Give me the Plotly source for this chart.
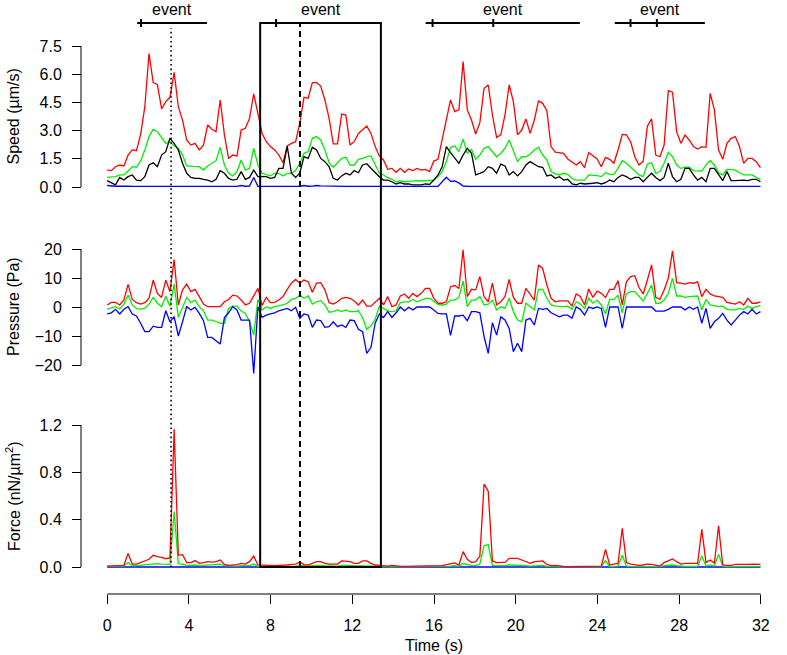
import plotly.graph_objects as go

# ---------------- data ----------------
SAMPLE_INTERVAL_S = 0.205
N_SAMPLES = 157
time_s = [round(i * SAMPLE_INTERVAL_S, 3) for i in range(N_SAMPLES)]

speed_red = [
    0.90, 0.87, 1.08, 1.17, 1.12, 1.70, 1.97, 1.93, 2.80, 4.27,
    7.10, 5.55, 5.46, 4.15, 4.54, 4.77, 6.10, 4.27, 3.56, 2.50,
    2.23, 2.32, 1.97, 2.23, 3.30, 3.07, 2.94, 4.63, 2.77, 1.52,
    1.70, 1.65, 3.03, 3.12, 3.65, 4.95, 3.92, 2.85, 2.41, 2.15,
    1.97, 1.70, 1.29, 2.18, 2.32, 2.41, 3.39, 4.77, 4.72, 5.55,
    5.55, 5.37, 4.63, 3.65, 2.29, 2.29, 3.88, 3.83, 2.23, 2.41,
    2.85, 3.07, 3.24, 2.85, 2.15, 1.65, 1.44, 0.94, 0.99, 0.78,
    0.99, 0.78, 0.96, 0.87, 0.99, 0.90, 0.94, 0.82, 1.38, 1.47,
    2.50, 3.69, 4.63, 4.01, 4.10, 6.67, 4.10, 3.56, 2.82, 3.42,
    5.25, 5.43, 3.83, 2.64, 2.77, 3.83, 5.43, 4.54, 2.77, 3.03,
    3.62, 2.85, 3.56, 4.57, 4.45, 4.06, 2.15, 1.85, 1.84, 1.79,
    1.49, 1.31, 1.17, 1.35, 1.03, 1.83, 1.67, 1.49, 1.08, 1.58,
    1.47, 1.26, 1.97, 2.80, 2.77, 2.41, 1.61, 1.17, 1.35, 3.24,
    3.62, 1.70, 1.61, 2.23, 5.12, 5.04, 2.94, 2.32, 2.77, 2.50,
    2.15, 2.02, 2.15, 2.11, 4.98, 4.10, 1.97, 1.47, 2.32, 2.59,
    2.68, 2.15, 1.26, 1.52, 1.52, 1.35, 1.03,
]
speed_green = [
    0.51, 0.53, 0.55, 0.64, 0.64, 0.85, 1.08, 1.05, 1.40, 1.97,
    2.68, 3.07, 2.94, 2.64, 2.32, 2.41, 2.18, 2.06, 1.70, 1.12,
    1.08, 1.08, 1.08, 0.90, 1.12, 1.26, 1.40, 2.11, 1.17, 0.73,
    0.59, 0.82, 1.44, 0.90, 0.99, 2.06, 1.17, 0.73, 0.64, 0.59,
    0.73, 0.73, 0.59, 0.73, 0.73, 0.87, 1.26, 1.79, 1.88, 2.59,
    2.68, 2.50, 1.97, 1.30, 1.05, 1.26, 1.52, 1.58, 1.17, 1.17,
    1.47, 1.52, 1.61, 1.65, 1.17, 0.73, 0.64, 0.50, 0.41, 0.28,
    0.32, 0.28, 0.30, 0.32, 0.34, 0.32, 0.34, 0.32, 0.37, 0.55,
    0.82, 1.35, 2.11, 2.18, 1.88, 2.55, 1.79, 2.00, 1.47, 1.70,
    2.06, 2.15, 1.88, 1.61, 1.79, 2.06, 2.50, 1.97, 1.35, 1.61,
    1.61, 1.74, 1.97, 2.11, 1.70, 1.44, 0.82, 0.70, 0.64, 0.73,
    0.67, 0.46, 0.37, 0.37, 0.37, 0.64, 0.64, 0.60, 0.55, 0.76,
    0.67, 0.69, 0.99, 1.40, 1.26, 1.05, 0.82, 0.64, 0.55, 1.22,
    1.29, 0.73, 0.82, 1.26, 1.84, 1.61, 1.17, 0.99, 1.05, 1.05,
    0.87, 0.87, 0.85, 1.17, 1.40, 1.17, 0.76, 0.64, 0.94, 0.94,
    0.90, 0.76, 0.64, 0.64, 0.64, 0.51, 0.41,
]
speed_black = [
    0.34, 0.23, 0.11, 0.51, 0.37, 0.55, 0.64, 0.37, 0.34, 0.55,
    1.17, 1.29, 1.08, 1.70, 1.88, 2.59, 2.32, 1.97, 1.26, 0.73,
    0.51, 0.46, 0.46, 0.41, 0.37, 0.28, 0.41, 0.87, 0.73, 0.46,
    0.37, 0.41, 0.82, 0.41, 0.51, 0.90, 0.55, 0.55, 0.55, 0.46,
    0.51, 0.99, 0.99, 2.18, 0.73, 0.51, 0.73, 1.61, 1.52, 2.11,
    1.97, 1.52, 1.35, 1.08, 0.46, 0.37, 0.59, 0.73, 0.64, 0.87,
    0.76, 1.17, 1.24, 1.00, 0.76, 0.55, 0.37, 0.37, 0.28, 0.16,
    0.23, 0.16, 0.16, 0.11, 0.11, 0.11, 0.16, 0.14, 0.37, 0.64,
    1.08, 2.15, 1.83, 1.52, 1.26, 1.70, 2.06, 1.79, 0.64, 0.73,
    0.82, 1.08, 0.99, 0.73, 1.22, 1.12, 0.64, 0.82, 0.59, 0.82,
    1.17, 1.35, 1.22, 1.08, 1.05, 0.59, 0.64, 0.46, 0.55, 0.37,
    0.41, 0.16, 0.11, 0.20, 0.16, 0.20, 0.20, 0.23, 0.16, 0.23,
    0.37, 0.28, 0.51, 0.64, 0.55, 0.41, 0.51, 0.51, 0.28, 0.51,
    0.73, 0.51, 0.34, 0.51, 1.26, 0.55, 0.28, 0.41, 0.99, 0.99,
    0.64, 0.37, 0.51, 0.28, 0.99, 0.99, 0.64, 0.34, 0.82, 0.34,
    0.34, 0.37, 0.37, 0.34, 0.41, 0.41, 0.28,
]
speed_blue = [
    0.08, 0.05, 0.04, 0.05, 0.03, 0.04, 0.03, 0.03, 0.04, 0.03,
    0.03, 0.03, 0.03, 0.03, 0.03, 0.03, 0.04, 0.03, 0.03, 0.03,
    0.03, 0.03, 0.03, 0.03, 0.03, 0.03, 0.03, 0.03, 0.03, 0.03,
    0.03, 0.03, 0.08, 0.04, 0.05, 0.51, 0.04, 0.03, 0.03, 0.03,
    0.03, 0.03, 0.03, 0.03, 0.03, 0.03, 0.04, 0.08, 0.04, 0.05,
    0.08, 0.06, 0.05, 0.04, 0.03, 0.03, 0.03, 0.03, 0.03, 0.03,
    0.03, 0.03, 0.03, 0.03, 0.03, 0.03, 0.03, 0.03, 0.03, 0.03,
    0.03, 0.03, 0.03, 0.03, 0.03, 0.03, 0.03, 0.03, 0.03, 0.03,
    0.28, 0.52, 0.30, 0.32, 0.22, 0.05, 0.04, 0.03, 0.03, 0.03,
    0.03, 0.03, 0.03, 0.03, 0.03, 0.03, 0.03, 0.03, 0.03, 0.03,
    0.03, 0.03, 0.03, 0.03, 0.03, 0.03, 0.03, 0.03, 0.03, 0.03,
    0.03, 0.03, 0.03, 0.03, 0.03, 0.03, 0.03, 0.03, 0.03, 0.03,
    0.03, 0.03, 0.04, 0.06, 0.04, 0.03, 0.03, 0.03, 0.03, 0.03,
    0.03, 0.03, 0.03, 0.03, 0.03, 0.03, 0.03, 0.03, 0.03, 0.03,
    0.03, 0.03, 0.03, 0.03, 0.03, 0.03, 0.03, 0.03, 0.03, 0.03,
    0.03, 0.03, 0.03, 0.03, 0.03, 0.03, 0.03,
]

pressure_red = [
    0.7, 1.6, 1.6, 0.7, 2.4, 7.8, 2.6, 1.5, 1.0, 1.5,
    3.0, 9.3, 4.7, 3.3, 9.3, 5.3, 16.4, 0.7, 5.9, 7.9,
    5.3, 6.1, 3.6, 1.0, 0.1, 0.1, 0.1, 0.1, 1.8, 2.6,
    4.1, 3.8, 2.4, 0.7, 1.3, 3.8, 6.4, 0.5, 3.3, 1.5,
    1.6, 2.4, 3.6, 6.1, 8.2, 9.5, 8.2, 9.3, 8.7, 5.1,
    8.2, 8.4, 5.9, 1.5, 1.0, 1.8, 3.0, 3.3, 3.0, 2.1,
    0.7, 2.4, 0.3, 0.3, 1.8, 3.0, 0.7, 3.6, 0.1, 0.7,
    3.8, 4.5, 3.0, 4.7, 3.6, 4.7, 6.4, 6.4, 3.0, 1.3,
    1.3, 1.8, 7.0, 7.4, 6.4, 19.7, 3.6, 6.1, 5.9, 10.5,
    3.6, 1.8, 8.2, 0.7, 1.8, 3.6, 9.5, 3.3, 1.3, 1.3,
    6.4, 4.5, 2.4, 14.5, 13.3, 7.6, 3.0, 1.8, 2.1, 2.1,
    2.1, 0.3, 4.5, 3.6, 0.7, 6.2, 3.3, 5.5, 4.7, 3.3,
    6.1, 6.1, 9.1, 0.7, 8.7, 10.5, 10.8, 6.7, 4.5, 9.3,
    14.5, 3.3, 2.6, 5.9, 9.9, 19.4, 8.4, 8.2, 7.9, 8.4,
    8.2, 8.7, 3.6, 6.1, 4.5, 3.8, 3.6, 3.3, 1.6, 1.3,
    1.0, 1.8, 0.7, 3.0, 1.3, 1.3, 1.8,
]
pressure_green = [
    -0.7, -0.2, 0.1, -0.7, 1.0, 4.1, 0.7, -0.5, -0.7, -0.5,
    1.0, 3.3, 1.3, 0.1, 3.8, 0.3, 7.9, -3.6, 0.1, 3.3,
    1.5, 2.4, 0.1, -1.3, -4.5, -4.5, -5.0, -5.6, -5.6, -0.5,
    0.3, 0.3, -1.4, -2.2, -5.0, -9.7, 2.6, -1.0, 0.1, -0.5,
    0.1, 0.3, 0.7, 1.3, 2.6, 3.0, 4.1, 3.0, 3.8, 1.0,
    1.8, 2.2, 0.7, -1.8, -1.6, -1.0, -1.6, -1.0, -1.6, -1.6,
    -1.3, -3.6, -7.7, -6.5, -4.3, 0.3, -0.5, -1.3, -1.6, -1.3,
    1.5, 1.8, 1.8, 2.6, 1.8, 2.4, 3.0, 3.0, 1.8, 0.9,
    0.7, 1.0, 2.4, 2.4, 3.3, 9.0, 0.1, 2.4, 2.4, 3.6,
    0.7, 1.0, 2.4, -1.0, 0.1, -0.5, 3.0, -1.6, -4.5, -5.1,
    1.3, 0.1, -1.0, 6.1, 6.1, 3.0, 0.7, 0.3, 0.1, 0.1,
    0.3, -0.8, 1.8, 1.0, -0.5, 3.0, 1.3, 2.4, 0.7, -2.4,
    2.6, 2.6, 4.1, -2.0, 4.7, 5.3, 5.3, 3.6, 2.1, 4.7,
    7.5, 1.3, 1.3, 2.4, 4.7, 9.9, 3.8, 3.8, 3.3, 3.6,
    3.6, 3.8, -1.0, 2.6, 0.7, 0.3, 0.1, 0.3, -0.8, -1.0,
    -1.0, -0.5, -0.8, 0.3, -0.5, 0.1, 0.5,
]
pressure_blue = [
    -2.4, -2.0, -0.8, -2.4, -0.8, 0.1, -2.4, -3.1, -5.6, -8.5,
    -8.5, -6.6, -7.0, -7.0, -1.3, -5.1, -3.3, -10.0, -5.1, 0.1,
    -1.0, -0.1, -2.2, -4.7, -10.5, -10.5, -11.6, -12.8, -3.6, -2.0,
    0.1, -1.0, -4.5, -4.5, -4.5, -22.9, 0.1, -3.6, -2.8, -2.4,
    -2.0, -1.3, -1.0, -0.5, -1.3, -0.1, -3.9, -2.4, -2.8, -7.0,
    -4.5, -4.7, -7.0, -6.8, -5.1, -6.8, -6.2, -7.0, -4.5, -4.7,
    -7.7, -8.5, -16.0, -13.9, -5.6, -2.4, -3.6, -1.6, -3.6, -2.0,
    0.0, -1.3, -0.1, -1.0, 0.0, 0.0, 0.0, 0.0, -1.0, -2.2,
    -2.4, -2.4, -9.8, -3.1, -3.1, -2.8, -4.7, -1.6, -1.6, -2.0,
    -10.2, -16.0, -5.4, -9.7, -3.4, -4.5, -7.4, -15.4, -12.5, -15.4,
    -4.5, -3.9, -6.2, -0.5, -0.8, -0.5, -2.0, -2.8, -3.4, -2.8,
    -2.8, -3.9, 0.0, -0.8, -2.8, 0.0, -0.5, 0.0, -0.5, -7.0,
    0.0, 0.0, 0.0, -7.4, 0.0, 0.0, 0.0, 0.0, 0.0, 0.0,
    0.0, -1.4, -1.4, -1.4, -0.8, 0.0, 0.0, 0.0, -1.0, 0.0,
    -0.8, 0.0, -5.6, -0.5, -7.4, -5.1, -3.9, -2.2, -4.5, -6.2,
    -4.5, -2.8, -1.6, -2.4, -0.8, -2.4, -1.6,
]

force_red = [
    0.008, 0.008, 0.011, 0.011, 0.014, 0.115, 0.025, 0.025, 0.037, 0.054,
    0.065, 0.099, 0.087, 0.082, 0.070, 0.076, 1.163, 0.099, 0.104, 0.037,
    0.037, 0.054, 0.031, 0.037, 0.045, 0.042, 0.045, 0.059, 0.022, 0.014,
    0.014, 0.020, 0.031, 0.025, 0.045, 0.093, 0.017, 0.014, 0.014, 0.011,
    0.011, 0.014, 0.014, 0.017, 0.023, 0.025, 0.042, 0.020, 0.017, 0.031,
    0.045, 0.045, 0.031, 0.025, 0.025, 0.025, 0.051, 0.051, 0.045, 0.031,
    0.031, 0.051, 0.051, 0.031, 0.017, 0.014, 0.008, 0.008, 0.014, 0.008,
    0.006, 0.006, 0.006, 0.008, 0.006, 0.006, 0.008, 0.008, 0.008, 0.011,
    0.011, 0.020, 0.030, 0.034, 0.017, 0.130, 0.065, 0.037, 0.045, 0.090,
    0.700, 0.640, 0.051, 0.037, 0.039, 0.039, 0.073, 0.073, 0.073, 0.059,
    0.045, 0.031, 0.045, 0.045, 0.051, 0.022, 0.011, 0.014, 0.008, 0.006,
    0.003, 0.003, 0.003, 0.006, 0.006, 0.006, 0.006, 0.008, 0.008, 0.149,
    0.017, 0.025, 0.031, 0.327, 0.037, 0.025, 0.020, 0.014, 0.017, 0.025,
    0.022, 0.014, 0.008, 0.037, 0.054, 0.068, 0.045, 0.025, 0.031, 0.031,
    0.031, 0.031, 0.318, 0.037, 0.059, 0.031, 0.348, 0.017, 0.014, 0.014,
    0.022, 0.020, 0.020, 0.022, 0.025, 0.025, 0.022,
]
force_green = [
    0.006, 0.006, 0.006, 0.006, 0.008, 0.037, 0.011, 0.011, 0.014, 0.017,
    0.022, 0.028, 0.028, 0.025, 0.025, 0.022, 0.468, 0.028, 0.025, 0.014,
    0.014, 0.017, 0.011, 0.014, 0.014, 0.014, 0.017, 0.025, 0.011, 0.008,
    0.006, 0.008, 0.011, 0.008, 0.011, 0.025, 0.006, 0.006, 0.006, 0.006,
    0.006, 0.006, 0.006, 0.006, 0.008, 0.008, 0.014, 0.008, 0.008, 0.011,
    0.014, 0.014, 0.011, 0.008, 0.008, 0.008, 0.014, 0.014, 0.014, 0.011,
    0.011, 0.014, 0.014, 0.011, 0.008, 0.006, 0.003, 0.003, 0.006, 0.003,
    0.003, 0.003, 0.003, 0.003, 0.003, 0.003, 0.003, 0.003, 0.003, 0.003,
    0.003, 0.006, 0.008, 0.011, 0.006, 0.031, 0.022, 0.011, 0.014, 0.025,
    0.180, 0.190, 0.014, 0.011, 0.011, 0.011, 0.017, 0.017, 0.017, 0.014,
    0.011, 0.008, 0.011, 0.011, 0.014, 0.006, 0.003, 0.003, 0.003, 0.003,
    0.003, 0.003, 0.003, 0.003, 0.003, 0.003, 0.003, 0.003, 0.003, 0.054,
    0.003, 0.006, 0.008, 0.100, 0.008, 0.006, 0.006, 0.003, 0.006, 0.006,
    0.006, 0.003, 0.003, 0.011, 0.017, 0.017, 0.011, 0.006, 0.006, 0.006,
    0.006, 0.006, 0.093, 0.008, 0.017, 0.008, 0.107, 0.006, 0.003, 0.003,
    0.006, 0.006, 0.006, 0.006, 0.008, 0.008, 0.006,
]
force_blue = [
    0.0, 0.0, 0.0, 0.0, 0.0, 0.0, 0.0, 0.0, 0.0, 0.0,
    0.0, 0.0, 0.0, 0.0, 0.0, 0.0, 0.0, 0.0, 0.0, 0.0,
    0.0, 0.0, 0.0, 0.0, 0.0, 0.0, 0.0, 0.0, 0.0, 0.0,
    0.0, 0.0, 0.0, 0.0, 0.0, 0.0, 0.0, 0.0, 0.0, 0.0,
    0.0, 0.0, 0.0, 0.0, 0.0, 0.0, 0.0, 0.0, 0.0, 0.0,
    0.0, 0.0, 0.0, 0.0, 0.0, 0.0, 0.0, 0.0, 0.0, 0.0,
    0.0, 0.0, 0.0, 0.0, 0.0, 0.0, 0.0, 0.0, 0.0, 0.0,
    0.0, 0.0, 0.0, 0.0, 0.0, 0.0, 0.0, 0.0, 0.0, 0.0,
    0.0, 0.0, 0.0, 0.0, 0.0, 0.0, 0.0, 0.0, 0.0, 0.0,
    0.0, 0.0, 0.0, 0.0, 0.0, 0.0, 0.0, 0.0, 0.0, 0.0,
    0.0, 0.0, 0.0, 0.0, 0.0, 0.0, 0.0, 0.0, 0.0, 0.0,
    0.0, 0.0, 0.0, 0.0, 0.0, 0.0, 0.0, 0.0, 0.0, 0.0,
    0.0, 0.0, 0.0, 0.0, 0.0, 0.0, 0.0, 0.0, 0.0, 0.0,
    0.0, 0.0, 0.0, 0.0, 0.0, 0.0, 0.0, 0.0, 0.0, 0.0,
    0.0, 0.0, 0.0, 0.0, 0.0, 0.0, 0.0, 0.0, 0.0, 0.0,
    0.0, 0.0, 0.0, 0.0, 0.0, 0.0, 0.0,
]

event_starts = [1.47, 7.49, 15.59, 24.85]
event_ends = [4.89, 13.40, 23.14, 29.26]
event_marks = [[1.66], [8.27], [15.93, 18.90], [25.62, 26.91]]
event_label = "event"
highlight_window = [7.49, 13.40]
dotted_time = 3.13
dashed_time = 9.44

speed_ticks = [0, 1.5, 3, 4.5, 6, 7.5]
speed_ticktext = ["0.0", "1.5", "3.0", "4.5", "6.0", "7.5"]
pressure_ticks = [-20, -10, 0, 10, 20]
pressure_ticktext = ["\u221220", "\u221210", "0", "10", "20"]
force_ticks = [0, 0.4, 0.8, 1.2]
force_ticktext = ["0.0", "0.4", "0.8", "1.2"]
time_ticks = [0, 4, 8, 12, 16, 20, 24, 28, 32]
time_ticktext = ["0", "4", "8", "12", "16", "20", "24", "28", "32"]

# ---------------- geometry / styling ----------------
FIG_W, FIG_H = 787, 655
M_L, M_R, M_T, M_B = 81, 0, 0, 61
PLOT_W = FIG_W - M_L - M_R
PLOT_H = FIG_H - M_T - M_B
X_RANGE = [-1.28, 33.28]
FONT = "Helvetica, Arial, 'Liberation Sans', sans-serif"
FS = 16


def paper_y(px):
    return (M_T + PLOT_H - px) / PLOT_H


def paper_x(px):
    return (px - M_L) / PLOT_W


def axis_geom(v0, px0, v1, px1, top_px, bottom_px):
    ppu = (px0 - px1) / (v1 - v0)
    lo = v0 - (bottom_px - px0) / ppu
    hi = v0 + (px0 - top_px) / ppu
    return [paper_y(bottom_px), paper_y(top_px)], [lo, hi]


speed_dom, speed_rng = axis_geom(0, 187, 7.5, 46, 30, 200)
press_dom, press_rng = axis_geom(0, 307, 20, 249, 228, 385)
force_dom, force_rng = axis_geom(0, 567, 1.2, 425, 405, 575)

RED, GREEN, BLACK, BLUE = "#FF0000", "#00EE00", "#000000", "#0000FF"
LW = 1.3

fig = go.Figure()


def add_line(y, color, yaxis):
    fig.add_trace(go.Scatter(x=time_s, y=y, mode="lines", yaxis=yaxis,
                             line=dict(color=color, width=LW),
                             hoverinfo="skip", showlegend=False))


add_line(speed_red, RED, "y")
add_line(speed_green, GREEN, "y")
add_line(speed_black, BLACK, "y")
add_line(speed_blue, BLUE, "y")
add_line(pressure_red, RED, "y2")
add_line(pressure_green, GREEN, "y2")
add_line(pressure_blue, BLUE, "y2")
add_line(force_blue, BLUE, "y3")
add_line(force_green, GREEN, "y3")
add_line(force_red, RED, "y3")

yax_common = dict(showgrid=False, zeroline=False, showline=False,
                  ticks="outside", ticklen=9, tickwidth=1, tickcolor="black",
                  tickfont=dict(family=FONT, size=FS, color="black"),
                  ticklabelstandoff=7, anchor="free", position=0,
                  fixedrange=True)

fig.update_layout(
    width=FIG_W, height=FIG_H,
    margin=dict(l=M_L, r=M_R, t=M_T, b=M_B, pad=0),
    paper_bgcolor="white", plot_bgcolor="white",
    showlegend=False,
    xaxis=dict(range=X_RANGE, showgrid=False, zeroline=False, showline=False,
               ticks="outside", ticklen=9, tickwidth=1, tickcolor="black",
               tickvals=time_ticks, ticktext=time_ticktext,
               tickfont=dict(family=FONT, size=FS, color="black"),
               ticklabelstandoff=8, anchor="free", position=0,
               fixedrange=True),
    yaxis=dict(domain=speed_dom, range=speed_rng, tickvals=speed_ticks,
               ticktext=speed_ticktext, **yax_common),
    yaxis2=dict(domain=press_dom, range=press_rng, tickvals=pressure_ticks,
                ticktext=pressure_ticktext, **yax_common),
    yaxis3=dict(domain=force_dom, range=force_rng, tickvals=force_ticks,
                ticktext=force_ticktext, **yax_common),
)

shapes = []
# detached axis lines (R style)
for yref, ticks in (("y", speed_ticks), ("y2", pressure_ticks), ("y3", force_ticks)):
    shapes.append(dict(type="line", xref="paper", yref=yref, x0=0, x1=0,
                       y0=ticks[0], y1=ticks[-1],
                       line=dict(color="black", width=1)))
shapes.append(dict(type="line", xref="x", yref="paper", x0=time_ticks[0],
                   x1=time_ticks[-1], y0=0, y1=0,
                   line=dict(color="black", width=1)))

EVENT_PX = 23
event_y = paper_y(EVENT_PX)
bottom_y = paper_y(567)  # force = 0 level
for s, e, marks in zip(event_starts, event_ends, event_marks):
    shapes.append(dict(type="line", xref="x", yref="paper", x0=s, x1=e,
                       y0=event_y, y1=event_y,
                       line=dict(color="black", width=2)))
    for m in marks:
        shapes.append(dict(type="line", xref="x", yref="paper", x0=m, x1=m,
                           y0=paper_y(EVENT_PX + 4), y1=paper_y(EVENT_PX - 4),
                           line=dict(color="black", width=2)))

shapes.append(dict(type="rect", xref="x", yref="paper",
                   x0=highlight_window[0], x1=highlight_window[1],
                   y0=bottom_y, y1=event_y,
                   line=dict(color="black", width=2), fillcolor="rgba(0,0,0,0)"))
shapes.append(dict(type="line", xref="x", yref="paper", x0=dashed_time,
                   x1=dashed_time, y0=bottom_y, y1=event_y,
                   line=dict(color="black", width=2, dash="6px,4px")))
shapes.append(dict(type="line", xref="x", yref="paper", x0=dotted_time,
                   x1=dotted_time, y0=bottom_y, y1=paper_y(28),
                   line=dict(color="black", width=1.6, dash="1.6px,3px")))
fig.update_layout(shapes=shapes)

annotations = []
for s, e in zip(event_starts, event_ends):
    annotations.append(dict(x=(s + e) / 2, y=1, xref="x", yref="paper",
                            text=event_label, showarrow=False,
                            xanchor="center", yanchor="top", borderpad=0,
                            font=dict(family=FONT, size=FS, color="black")))

title_x = paper_x(13)
for text, center_px in (("Speed (\u00b5m/s)", 116.5),
                        ("Pressure (Pa)", 307),
                        ("Force (nN/\u00b5m<sup>2</sup>)", 496)):
    annotations.append(dict(x=title_x, y=paper_y(center_px), xref="paper",
                            yref="paper", text=text, showarrow=False,
                            textangle=-90, xanchor="center", yanchor="middle",
                            font=dict(family=FONT, size=FS, color="black")))
annotations.append(dict(x=0.5, y=paper_y(645), xref="paper", yref="paper",
                        text="Time (s)", showarrow=False, xanchor="center",
                        yanchor="middle",
                        font=dict(family=FONT, size=FS, color="black")))
fig.update_layout(annotations=annotations)

fig.write_html(
    "out.html",
    config={"displayModeBar": False, "staticPlot": True},
    post_script="document.body.style.margin='0';document.body.style.overflow='hidden';",
)
